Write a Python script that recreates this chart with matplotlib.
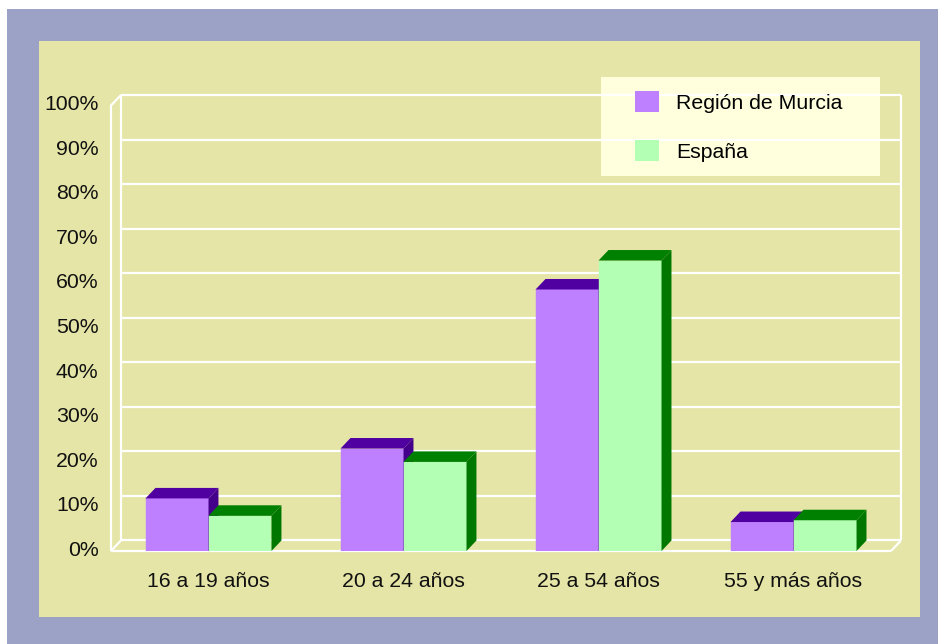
import numpy as np
import matplotlib.pyplot as plt
import matplotlib.transforms as mtransforms
from matplotlib.patches import Rectangle, Polygon, Patch

plt.rcParams['font.family'] = ['Liberation Sans', 'DejaVu Sans']

categories = ['16 a 19 años', '20 a 24 años', '25 a 54 años', '55 y más años']
murcia = [11.8, 23.0, 58.7, 6.5]
espana = [7.9, 20.0, 65.2, 6.9]
series_names = ['Región de Murcia', 'España']
yticks = list(range(0, 101, 10))

W, H = 938, 644
fig = plt.figure(figsize=(W / 100, H / 100), dpi=100, facecolor='white')

# outer frame and inner panel (pixel -> figure fraction)
def frect(x0, y0, x1, y1, **kw):
    fig.patches.append(Rectangle((x0 / W, 1 - y1 / H), (x1 - x0) / W, (y1 - y0) / H,
                                 transform=fig.transFigure, **kw))

frect(7, 9, W, H, facecolor='#9CA2C6', edgecolor='none', zorder=-3)
frect(39, 41, 920, 617, facecolor='#E5E5A7', edgecolor='none', zorder=-2)
frect(601, 77, 880, 176, facecolor='#FFFFDD', edgecolor='none', zorder=-1)

# depth of the pseudo 3d box, in data units
dx = 0.051
dy = 2.36

ax = fig.add_axes([111 / W, (H - 551) / H, 790 / W, 456 / H])
ax.set_zorder(1)
ax.set_facecolor('none')
ax.set_xlim(-0.5, 3.5 + dx)
ax.set_ylim(0, 100 + dy)
for s in ax.spines.values():
    s.set_visible(False)

wall = dict(color='white', lw=1.6, zorder=1, solid_capstyle='butt', clip_on=False)
x_left, x_right = -0.5, 3.5
# back wall grid
for t in yticks:
    ax.plot([x_left + dx, x_right + dx], [t + dy, t + dy], **wall)
ax.plot([x_left + dx, x_left + dx], [dy, 100 + dy], **wall)
ax.plot([x_right + dx, x_right + dx], [dy, 100 + dy], **wall)
# left wall front edge
ax.plot([x_left, x_left, x_left + dx], [0, 100, 100 + dy], **wall)
# floor
ax.plot([x_left, x_left + dx], [0, dy], **wall)
ax.plot([x_right, x_right + dx], [0, dy], **wall)
ax.plot([x_left, x_right], [0, 0], **wall)

bw = 0.323
styles = [('#BF80FF', '#5000A0', '#44008A'), ('#B3FFB3', '#008000', '#007800')]
x = np.arange(len(categories))
for i in range(len(categories)):
    for k, vals in enumerate([murcia, espana]):
        face, top, side = styles[k]
        x0 = x[i] - bw + k * bw
        x1 = x0 + bw
        v = vals[i]
        ax.bar(x0, v, width=bw, align='edge', color=face, edgecolor=face, lw=0.3, zorder=3)
        ax.add_patch(Polygon([(x0, v), (x0 + dx, v + dy), (x1 + dx, v + dy), (x1, v)],
                             closed=True, facecolor=top, edgecolor='none', zorder=3))
        ax.add_patch(Polygon([(x1, 0), (x1 + dx, dy), (x1 + dx, v + dy), (x1, v)],
                             closed=True, facecolor=side, edgecolor='none', zorder=3))

ax.set_yticks(yticks)
ax.set_yticklabels([f'{t}%' for t in yticks])
ax.set_xticks(x)
ax.set_xticklabels(categories)
ax.tick_params(axis='y', length=0, pad=9, labelsize=15.3, labelcolor='#111111')
ax.tick_params(axis='x', length=0, pad=15, labelsize=15.3, labelcolor='#111111')
shift = mtransforms.ScaledTranslation(0, 2 / 72, fig.dpi_scale_trans)
for lab in ax.get_yticklabels():
    lab.set_transform(lab.get_transform() + shift)

handles = [Patch(facecolor=styles[0][0], edgecolor='none'),
           Patch(facecolor=styles[1][0], edgecolor='none')]
ax.legend(handles, series_names, loc='upper left', frameon=False,
          bbox_to_anchor=(635 / W, 1 - 91 / H), bbox_transform=fig.transFigure,
          borderaxespad=0, borderpad=0, fontsize=15.3, handlelength=1.12,
          handleheight=1.12, handletextpad=0.82, labelspacing=1.3)

fig.savefig('out.png', dpi=100, facecolor='white')
